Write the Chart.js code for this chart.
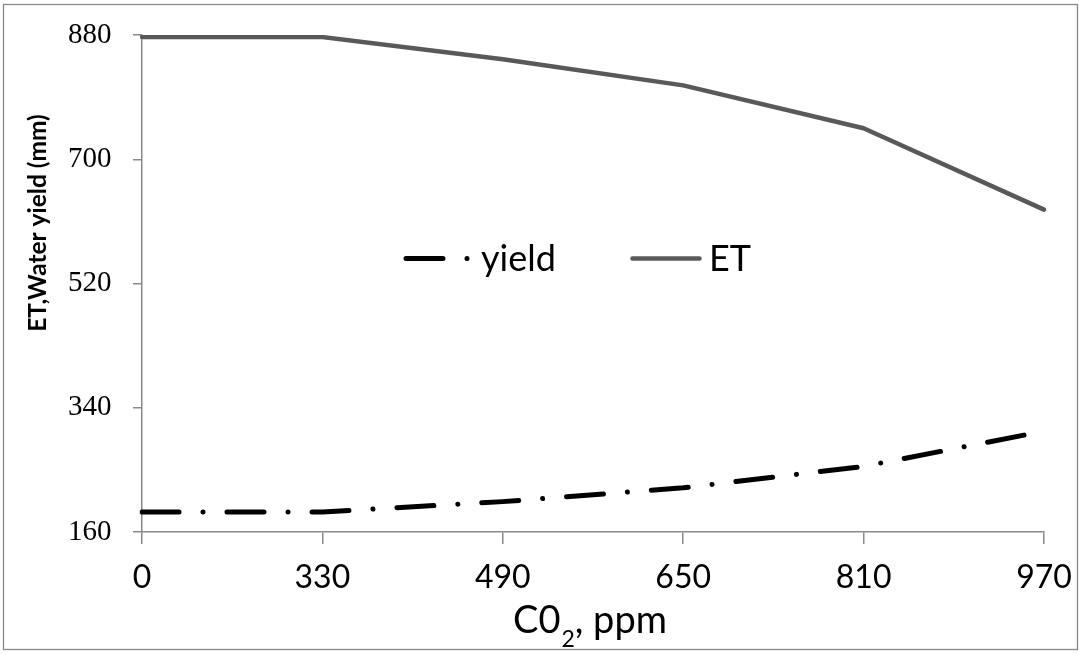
<!DOCTYPE html>
<html>
<head>
<meta charset="utf-8">
<script src="https://cdn.jsdelivr.net/npm/chart.js@4.4.1/dist/chart.umd.min.js"></script>
<style>
  html, body { margin: 0; padding: 0; background: #ffffff; }
  #wrap { width: 1079px; height: 655px; position: relative; }
  canvas { display: block; }
</style>
</head>
<body>
<div id="wrap"><canvas id="chart" width="1079" height="655"></canvas></div>
<script>
// CO2 concentration levels (ppm) along the x axis
const co2Levels = ['0', '330', '490', '650', '810', '970'];
// Water yield (mm)
const yieldValues = [189, 189, 204, 224, 255, 306];
// Evapotranspiration (mm)
const etValues = [877, 877, 845, 807, 745, 627];
// Value axis ticks
const yTickValues = [160, 340, 520, 700, 880];
// Series names
const seriesNames = ['yield', 'ET'];
// Axis titles (x title split for the subscript)
const xTitleParts = ['C0', '2', ', ppm'];
const yTitleText = 'ET,Water yield (mm)';

const AXIS_GREY = '#898989';
const SANS = 'Lato, "Open Sans", sans-serif';
const SERIF = '"Liberation Serif", "Times New Roman", serif';

// White background and the thin frame around the whole figure
const framePlugin = {
  id: 'frame',
  beforeDraw(chart) {
    const ctx = chart.ctx;
    ctx.save();
    ctx.fillStyle = '#ffffff';
    ctx.fillRect(0, 0, chart.width, chart.height);
    ctx.strokeStyle = AXIS_GREY;
    ctx.lineWidth = 1.3;
    ctx.strokeRect(3.5, 4.5, 1074, 645);
    ctx.restore();
  }
};

// Axis titles: rotated bold y title and the x title with a subscript
const titlesPlugin = {
  id: 'titles',
  afterDraw(chart) {
    const ctx = chart.ctx;
    ctx.save();
    ctx.fillStyle = '#000000';
    ctx.translate(38, 223);
    ctx.rotate(-Math.PI / 2);
    ctx.font = 'bold 24.5px ' + SANS;
    ctx.textAlign = 'center';
    ctx.textBaseline = 'middle';
    ctx.fillText(yTitleText, 0, 0);
    ctx.restore();

    ctx.save();
    ctx.fillStyle = '#000000';
    ctx.textAlign = 'left';
    ctx.textBaseline = 'alphabetic';
    let x = 513;
    ctx.font = '38px ' + SANS;
    ctx.fillText(xTitleParts[0], x, 633);
    x += ctx.measureText(xTitleParts[0]).width;
    ctx.font = '23px ' + SANS;
    ctx.fillText(xTitleParts[1], x + 1, 647);
    x += ctx.measureText(xTitleParts[1]).width + 1;
    ctx.font = '38px ' + SANS;
    ctx.fillText(xTitleParts[2], x, 633);
    ctx.restore();
  }
};

// Legend drawn inside the plot, using each dataset's own line style
const legendPlugin = {
  id: 'insideLegend',
  afterDatasetsDraw(chart) {
    const ctx = chart.ctx;
    const entries = [
      { ds: chart.data.datasets[0], x1: 404.5, x2: 470, tx: 481 },
      { ds: chart.data.datasets[1], x1: 632.5, x2: 699.5, tx: 709 }
    ];
    const y = 258.5;
    entries.forEach(e => {
      ctx.save();
      ctx.strokeStyle = e.ds.borderColor;
      ctx.lineWidth = e.ds.borderWidth;
      ctx.lineCap = e.ds.borderCapStyle;
      ctx.setLineDash(e.ds.borderDash || []);
      ctx.lineDashOffset = -1.5;
      ctx.beginPath();
      ctx.moveTo(e.x1, y);
      ctx.lineTo(e.x2, y);
      ctx.stroke();
      ctx.setLineDash([]);
      ctx.fillStyle = '#000000';
      ctx.font = '36px ' + SANS;
      ctx.textAlign = 'left';
      ctx.textBaseline = 'alphabetic';
      ctx.fillText(e.ds.label, e.tx, 271);
      ctx.restore();
    });
  }
};

new Chart(document.getElementById('chart'), {
  type: 'line',
  data: {
    labels: co2Levels,
    datasets: [
      {
        label: seriesNames[0],
        data: yieldValues,
        borderColor: '#000000',
        borderWidth: 5,
        borderDash: [37, 24, 0.01, 24],
        borderCapStyle: 'round',
        borderJoinStyle: 'round',
        pointRadius: 0,
        tension: 0,
        fill: false
      },
      {
        label: seriesNames[1],
        data: etValues,
        borderColor: '#595959',
        borderWidth: 4.5,
        borderCapStyle: 'round',
        borderJoinStyle: 'round',
        pointRadius: 0,
        tension: 0,
        fill: false
      }
    ]
  },
  options: {
    responsive: false,
    animation: false,
    devicePixelRatio: 1,
    layout: { padding: { left: 68, top: 35, right: 35, bottom: 0 } },
    plugins: {
      legend: { display: false },
      tooltip: { enabled: false },
      title: { display: false }
    },
    scales: {
      x: {
        type: 'category',
        offset: false,
        afterFit(scale) {
          scale.height = 123;
          scale.paddingRight = Math.min(scale.paddingRight, 30);
        },
        border: { display: true, color: AXIS_GREY, width: 1.5 },
        grid: {
          display: true,
          drawOnChartArea: false,
          drawTicks: true,
          tickLength: 12,
          color: AXIS_GREY,
          lineWidth: 1.5,
          offset: false
        },
        ticks: {
          color: '#000000',
          font: { family: SANS, size: 32 },
          padding: 14,
          maxRotation: 0,
          autoSkip: false
        },
        title: { display: false }
      },
      y: {
        min: 160,
        max: 880,
        afterFit(scale) { scale.width = 74; },
        afterBuildTicks(scale) { scale.ticks = yTickValues.map(v => ({ value: v })); },
        border: { display: true, color: AXIS_GREY, width: 1.5 },
        grid: {
          display: true,
          drawOnChartArea: false,
          drawTicks: true,
          tickLength: 9,
          color: AXIS_GREY,
          lineWidth: 1.5
        },
        ticks: {
          color: '#000000',
          font: { family: SERIF, size: 29 },
          crossAlign: 'far',
          padding: 0
        },
        title: { display: false }
      }
    }
  },
  plugins: [framePlugin, legendPlugin, titlesPlugin]
});
</script>
</body>
</html>
